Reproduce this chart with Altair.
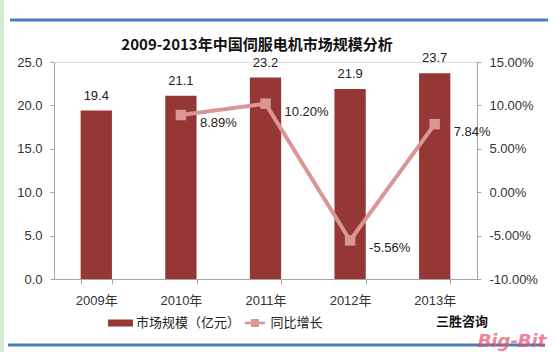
import altair as alt
import pandas as pd

# ---- data ----
years = ["2009年", "2010年", "2011年", "2012年", "2013年"]
market_size = [19.4, 21.1, 23.2, 21.9, 23.7]          # 亿元
growth = [None, 0.0889, 0.1020, -0.0556, 0.0784]      # 同比增长

bar_name = "市场规模（亿元）"
line_name = "同比增长"
title_text = "2009-2013年中国伺服电机市场规模分析"
source_text = "三胜咨询"
watermark_text = "Big-Bit"

left_ticks = [0, 5, 10, 15, 20, 25]
right_ticks = [-0.10, -0.05, 0.0, 0.05, 0.10, 0.15]

df = pd.DataFrame({
    "year": years,
    "market": market_size,
    "growth": growth,
    "bar_series": [bar_name] * len(years),
    "line_series": [line_name] * len(years),
})
one = pd.DataFrame({"k": [0]})

BAR = "#953735"
LINE = "#D99694"
BLUE = "#4A7EBB"
AXIS = "#A6A6A6"
NUM_FONT = "Liberation Sans, Noto Sans CJK SC, sans-serif"
CJK_FONT = "Noto Sans CJK SC, sans-serif"

PL, PT = 54, 62  # plot origin in page pixels

x_enc = alt.X(
    "year:N", sort=years, title=None,
    scale=alt.Scale(paddingInner=0.63, paddingOuter=0.315),
    axis=alt.Axis(labelAngle=0, tickBand="extent", domainColor=AXIS, tickColor=AXIS,
                  tickSize=5, labelPadding=10, labelFontSize=13, labelColor="#333",
                  labelFont=NUM_FONT),
)
y_left = alt.Y(
    "market:Q", title=None, scale=alt.Scale(domain=[0, 25]),
    axis=alt.Axis(orient="left", values=left_ticks, format=".1f", grid=False,
                  domainColor=AXIS, tickColor=AXIS, tickSize=4, labelPadding=8,
                  labelFontSize=13, labelColor="#333", labelFont=NUM_FONT),
)
y_right = alt.Y(
    "growth:Q", title=None, scale=alt.Scale(domain=[-0.10, 0.15]),
    axis=alt.Axis(orient="right", values=right_ticks, format=".2%", grid=False,
                  domainColor=AXIS, tickColor=AXIS, tickSize=4, labelPadding=8,
                  labelFontSize=13, labelColor="#333", labelFont=NUM_FONT),
)

BAR_PATH = "M-1,-0.28L1,-0.28L1,0.28L-1,0.28Z"
LINE_PATH = ("M-0.8,-0.1L-0.32,-0.1L-0.32,-0.32L0.32,-0.32L0.32,-0.1L0.8,-0.1"
             "L0.8,0.1L0.32,0.1L0.32,0.32L-0.32,0.32L-0.32,0.1L-0.8,0.1Z")

bars = alt.Chart(df).mark_bar().encode(
    x=x_enc, y=y_left,
    color=alt.Color("bar_series:N", scale=alt.Scale(domain=[bar_name], range=[BAR]),
                    legend=alt.Legend(title=None, orient="none", legendX=54, legendY=248.5,
                                      symbolType=BAR_PATH, symbolSize=625,
                                      symbolStrokeWidth=0, symbolFillColor=BAR,
                                      labelFont=CJK_FONT, labelFontSize=13,
                                      labelColor="#222", labelOffset=3, padding=0)),
)
bar_text = alt.Chart(df).mark_text(baseline="bottom", dy=-8, fontSize=13,
                                   font=NUM_FONT, color="#222").encode(
    x=x_enc, y=y_left, text=alt.Text("market:Q", format=".1f"))

gdf = alt.Chart(df).transform_filter("isValid(datum.growth)")
line_legend = alt.Legend(title=None, orient="none", legendX=188.5, legendY=248.5,
                         symbolType=LINE_PATH, symbolSize=625, symbolStrokeWidth=0,
                         symbolFillColor=LINE, symbolStrokeColor=LINE,
                         labelFont=CJK_FONT, labelFontSize=13, labelColor="#222",
                         labelOffset=3, padding=0)
line_color = alt.Color("line_series:N", scale=alt.Scale(domain=[line_name], range=[LINE]),
                       legend=line_legend)
line = gdf.mark_line(strokeWidth=4).encode(x=x_enc, y=y_right, color=line_color)
points = gdf.mark_point(shape="square", filled=True, size=110, opacity=1).encode(
    x=x_enc, y=y_right, color=line_color)
line_text = gdf.mark_text(align="left", baseline="middle", dx=19, dy=8, fontSize=13,
                          font=NUM_FONT, color="#222").encode(
    x=x_enc, y=y_right, text=alt.Text("growth:Q", format=".2%"))

# ---- decorations ----
title = alt.Chart(one).mark_text(font=CJK_FONT, fontSize=15, fontWeight="bold",
                                 color="#111", baseline="middle").encode(
    x=alt.value(257 - PL), y=alt.value(45 - PT), text=alt.value(title_text))
top_rule = alt.Chart(one).mark_rule(color=BLUE, strokeWidth=3).encode(
    x=alt.value(10 - PL), x2=alt.value(548 - PL), y=alt.value(20 - PT))
bottom_rule = alt.Chart(one).mark_rule(color=BLUE, strokeWidth=3).encode(
    x=alt.value(8 - PL), x2=alt.value(545 - PL), y=alt.value(345 - PT))
left_edge = alt.Chart(one).mark_rule(color="#D3EBD3", strokeWidth=4).encode(
    x=alt.value(2 - PL), y=alt.value(0 - PT), y2=alt.value(352 - PT))
source = alt.Chart(one).mark_text(font=CJK_FONT, fontSize=13, fontWeight="bold",
                                  color="#111").encode(
    x=alt.value(462 - PL), y=alt.value(322 - PT), text=alt.value(source_text))
wm = alt.Chart(one).mark_text(font="DejaVu Sans", fontSize=18, fontWeight="bold",
                              fontStyle="italic", color="#E8506A", opacity=0.7).encode(
    x=alt.value(512 - PL), y=alt.value(342 - PT), text=alt.value(watermark_text))

main = alt.layer(
    alt.layer(bars, bar_text),
    alt.layer(line, points, line_text),
).resolve_scale(y="independent", color="independent")

chart = alt.layer(main, title, top_rule, bottom_rule, left_edge, source, wm).properties(
    width=423, height=217,
    autosize=alt.AutoSizeParams(type="none"),
    padding={"left": PL, "top": PT, "right": 555 - PL - 423, "bottom": 352 - PT - 217},
).configure_view(stroke=None).configure(
    locale=alt.Locale(number=alt.NumberLocale(decimal=".", thousands=",", grouping=[3],
                                              currency=["", ""], minus="-"))
)

chart.save("out.html", embed_options={"renderer": "svg", "actions": False})
